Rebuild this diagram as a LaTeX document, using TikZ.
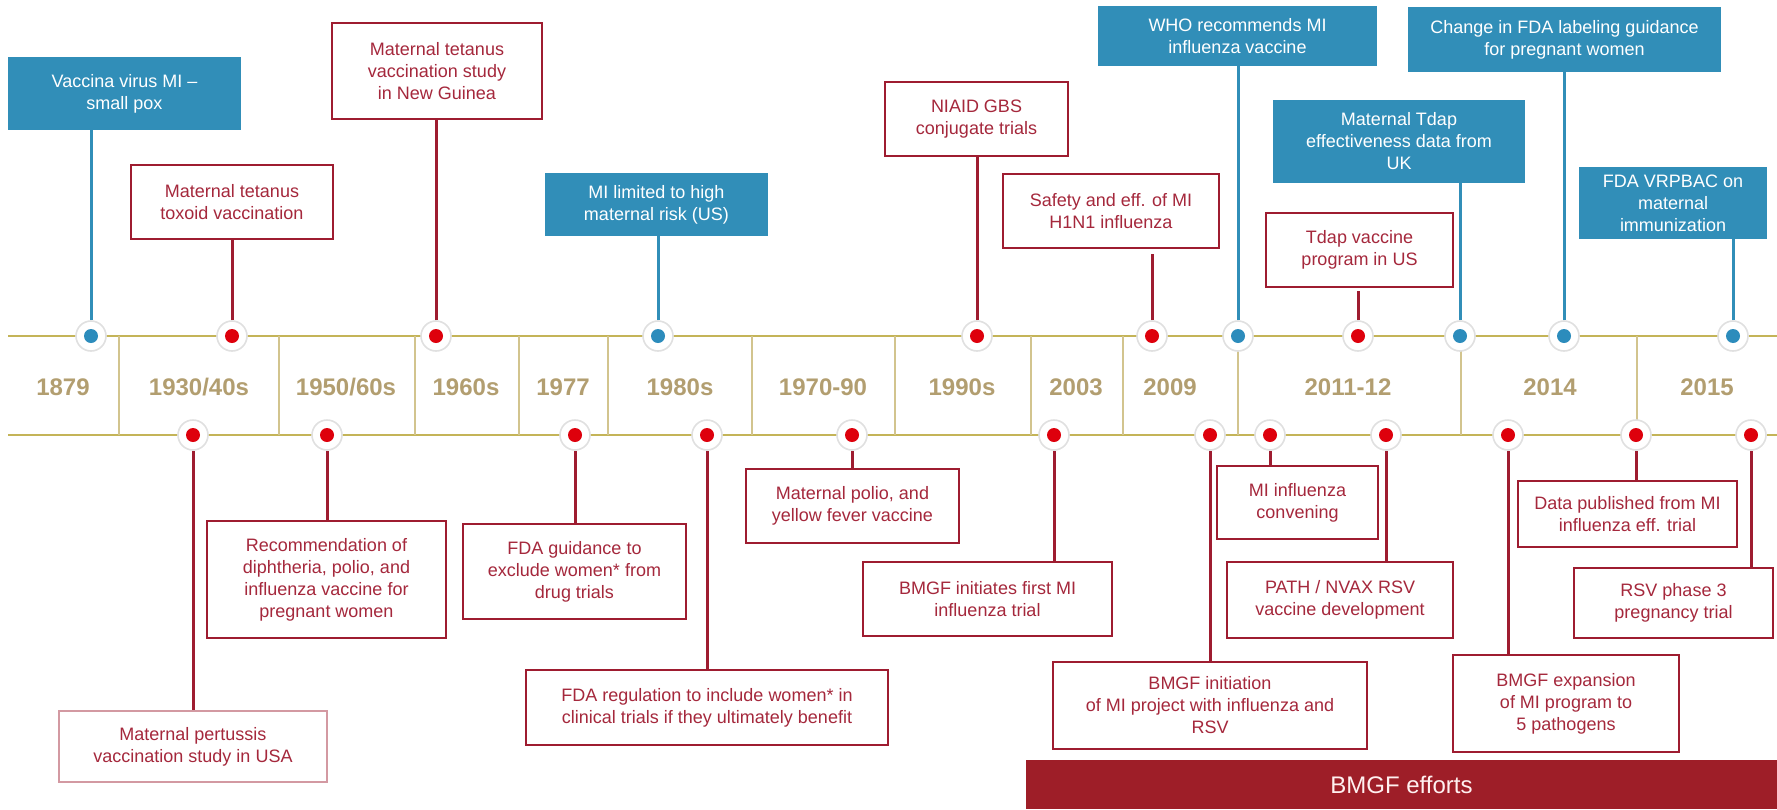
\documentclass[tikz,border=0pt]{standalone}
\usepackage{fontspec}
\setmainfont{Liberation Sans}
\usepackage{xcolor}
\usetikzlibrary{positioning,calc}
\definecolor{boxblue}{RGB}{49,142,184}
\definecolor{boxred}{RGB}{158,28,48}
\definecolor{boxredtext}{RGB}{165,40,60}
\definecolor{dotred}{RGB}{222,0,12}
\definecolor{dotblue}{RGB}{44,140,188}
\definecolor{axisgold}{RGB}{196,180,88}
\definecolor{dividertan}{RGB}{210,196,142}
\definecolor{yeartan}{RGB}{178,158,112}
\definecolor{effortred}{RGB}{158,30,40}
\newcommand{\eventbox}[4]{%
  \node[#2, minimum width=#3, minimum height=#4] (#1) }
\tikzset{
  bluebox/.style={rectangle, fill=boxblue, text=white, inner sep=0pt,
                  align=center, font=\fontsize{9}{11}\selectfont},
  redbox/.style={rectangle, draw=boxred, line width=1pt, fill=white,
                 text=boxredtext, inner sep=0pt, align=center,
                 font=\fontsize{9}{11}\selectfont},
  bluedot/.style={circle, fill=white, draw=black!12, line width=0.8pt,
                  minimum size=15pt, inner sep=0pt,
                  path picture={\fill[dotblue] (path picture bounding box.center) circle (3.5pt);}},
  reddot/.style={bluedot,
                 path picture={\fill[dotred] (path picture bounding box.center) circle (3.5pt);}},
  bluestem/.style={draw=boxblue, line width=1.5pt},
  redstem/.style={draw=boxred, line width=1.5pt},
  timeaxis/.style={draw=axisgold, line width=1.2pt},
  divider/.style={draw=dividertan, line width=0.7pt},
  yearlabel/.style={font=\fontsize{12}{14}\selectfont\bfseries, text=yeartan}
}
\begin{document}
\begin{tikzpicture}[x=0.5pt, y=-0.5pt]
\useasboundingbox (0,0) rectangle (1777,809);

\draw[timeaxis] (8,336) -- (1777,336);
\draw[timeaxis] (8,435) -- (1777,435);
\foreach \x in {119,279,415,519,608,752,895,1031,1123,1238,1461,1637}
  \draw[divider] (\x,336) -- (\x,435);

\foreach \x/\yr [count=\i] in {63/1879, 199/{1930/40s}, 346/{1950/60s}, 466/1960s,
    563/1977, 680/1980s, 823/1970-90, 962/1990s, 1076/2003, 1170/2009,
    1348/2011-12, 1550/2014, 1707/2015}
  \node[yearlabel] (year\i) at (\x,387) {\yr};

\foreach \x/\kind [count=\i] in {91/bluedot, 232/reddot, 436/reddot, 658/bluedot,
    977/reddot, 1152/reddot, 1238/bluedot, 1358/reddot, 1460/bluedot,
    1564/bluedot, 1733/bluedot}
  \node[\kind] (top\i) at (\x,336) {};
\foreach \x [count=\i] in {193,327,575,707,852,1054,1210,1270,1386,1508,1636,1751}
  \node[reddot] (bot\i) at (\x,435) {};

\eventbox{vaccina}{bluebox}{116.5pt}{36.5pt} at (124.5,93.5)
  {Vaccina virus MI \textendash\\ small pox};
\eventbox{toxoid}{redbox}{101pt}{37pt} at (232,202)
  {Maternal tetanus\\ toxoid vaccination};
\eventbox{guinea}{redbox}{105pt}{48pt} at (437,71)
  {Maternal tetanus\\ vaccination study\\ in New Guinea};
\eventbox{highrisk}{bluebox}{111.5pt}{31.5pt} at (656.5,204.5)
  {MI limited to high\\ maternal risk (US)};
\eventbox{niaid}{redbox}{91.5pt}{37pt} at (976.5,119)
  {NIAID GBS\\ conjugate trials};
\eventbox{hinone}{redbox}{108pt}{37pt} at (1111,211)
  {Safety and eff. of MI\\ H1N1 influenza};
\eventbox{who}{bluebox}{139.5pt}{30pt} at (1237.5,36)
  {WHO recommends MI\\ influenza vaccine};
\eventbox{tdapus}{redbox}{93.5pt}{37pt} at (1359.5,250)
  {Tdap vaccine\\ program in US};
\eventbox{tdapuk}{bluebox}{126pt}{41.5pt} at (1399,141.5)
  {Maternal Tdap\\ effectiveness data from\\ UK};
\eventbox{labeling}{bluebox}{156.5pt}{32.5pt} at (1564.5,39.5)
  {Change in FDA labeling guidance\\ for pregnant women};
\eventbox{vrpbac}{bluebox}{94pt}{36pt} at (1673,203)
  {FDA VRPBAC on\\ maternal\\ immunization};

\eventbox{pertussis}{redbox, draw=boxred!45, line width=0.6pt}{134pt}{35.5pt} at (193,746.5)
  {Maternal pertussis\\ vaccination study in USA};
\eventbox{diphtheria}{redbox}{119.5pt}{58.5pt} at (326.5,579.5)
  {Recommendation of\\ diphtheria, polio, and\\ influenza vaccine for\\ pregnant women};
\eventbox{exclude}{redbox}{111.5pt}{47.5pt} at (574.5,571.5)
  {FDA guidance to\\ exclude women* from\\ drug trials};
\eventbox{include}{redbox}{181pt}{37.5pt} at (707,707.5)
  {FDA regulation to include women* in\\ clinical trials if they ultimately benefit};
\eventbox{polio}{redbox}{106.5pt}{37pt} at (852.5,506)
  {Maternal polio, and\\ yellow fever vaccine};
\eventbox{firsttrial}{redbox}{124.5pt}{37pt} at (987.5,599)
  {BMGF initiates first MI\\ influenza trial};
\eventbox{miproject}{redbox}{157pt}{43.5pt} at (1210,705.5)
  {BMGF initiation\\ of MI project with influenza and\\ RSV};
\eventbox{convening}{redbox}{80.5pt}{36.5pt} at (1297.5,502.5)
  {MI influenza\\ convening};
\eventbox{nvax}{redbox}{113pt}{38pt} at (1340,600)
  {PATH / NVAX RSV\\ vaccine development};
\eventbox{expansion}{redbox}{113pt}{48.5pt} at (1566,703.5)
  {BMGF expansion\\ of MI program to\\ 5 pathogens};
\eventbox{published}{redbox}{109.5pt}{33pt} at (1627.5,514)
  {Data published from MI\\ influenza eff. trial};
\eventbox{phasethree}{redbox}{99.5pt}{35pt} at (1673.5,603)
  {RSV phase 3\\ pregnancy trial};

\draw[bluestem] (top1) -- (top1 |- vaccina.south);
\draw[redstem] (top2) -- (top2 |- toxoid.south);
\draw[redstem] (top3) -- (top3 |- guinea.south);
\draw[bluestem] (top4) -- (top4 |- highrisk.south);
\draw[redstem] (top5) -- (top5 |- niaid.south);
\draw[redstem, shorten >=2.5pt] (top6) -- (top6 |- hinone.south);
\draw[bluestem] (top7) -- (top7 |- who.south);
\draw[redstem, shorten >=1.5pt] (top8) -- (top8 |- tdapus.south);
\draw[bluestem] (top9) -- (top9 |- tdapuk.south);
\draw[bluestem] (top10) -- (top10 |- labeling.south);
\draw[bluestem] (top11) -- (top11 |- vrpbac.south);

\draw[redstem] (bot1) -- (bot1 |- pertussis.north);
\draw[redstem] (bot2) -- (bot2 |- diphtheria.north);
\draw[redstem] (bot3) -- (bot3 |- exclude.north);
\draw[redstem] (bot4) -- (bot4 |- include.north);
\draw[redstem] (bot5) -- (bot5 |- polio.north);
\draw[redstem] (bot6) -- (bot6 |- firsttrial.north);
\draw[redstem] (bot7) -- (bot7 |- miproject.north);
\draw[redstem] (bot8) -- (bot8 |- convening.north);
\draw[redstem] (bot9) -- (bot9 |- nvax.north);
\draw[redstem] (bot10) -- (bot10 |- expansion.north);
\draw[redstem] (bot11) -- (bot11 |- published.north);
\draw[redstem] (bot12) -- (bot12 |- phasethree.north);

\node[fill=effortred, text=white!94!red, minimum width=375.5pt, minimum height=24.5pt,
      inner sep=0pt, font=\fontsize{12}{14}\selectfont] (efforts) at (1401.5,784.5) {BMGF efforts};

\end{tikzpicture}
\end{document}
